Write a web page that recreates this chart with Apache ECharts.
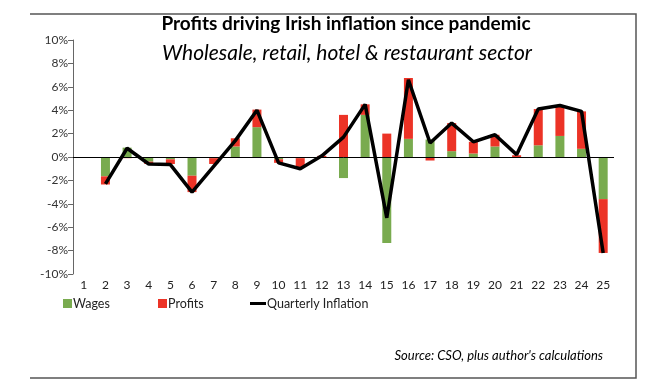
<!DOCTYPE html>
<html><head><meta charset="utf-8">
<script src="https://cdn.jsdelivr.net/npm/echarts@6/dist/echarts.min.js"></script>
<style>html,body{margin:0;padding:0;background:#fff}#c{width:650px;height:390px}</style>
</head><body><div id="c"></div>
<script>
const categories = ['1','2','3','4','5','6','7','8','9','10','11','12','13','14','15','16','17','18','19','20','21','22','23','24','25'];
const wages     = [null,-1.65, 0.8,-0.4,-0.2,-1.6,-0.1, 0.9, 2.55,-0.2,-0.1, 0.0,-1.8, 3.6,-7.35, 1.55, 1.5, 0.5, 0.3, 0.9, 0.0, 1.0, 1.8, 0.7,-3.6];
const profits   = [null,-0.7,-0.1,-0.2,-0.4,-1.4,-0.5, 0.7, 1.5,-0.3,-0.8, 0.1, 3.6, 0.9, 2.0, 5.2,-0.3, 2.4, 1.0, 1.0, 0.15, 3.1, 2.6, 3.2,-4.6];
const inflation = [null,-2.3, 0.75,-0.6,-0.65,-3.0,-0.8, 1.4, 4.0,-0.5,-1.0, 0.1, 1.7, 4.5,-5.2, 6.6, 1.2, 2.9, 1.3, 1.9, 0.2, 4.1, 4.4, 3.9,-8.2];
const yTicks = [-10,-8,-6,-4,-2,0,2,4,6,8,10];

const FONT = 'Lato';
const chart = echarts.init(document.getElementById('c'), null, {renderer:'canvas'});
chart.setOption({
  animation:false,
  textStyle:{fontFamily:FONT},
  title:[
    {text:'Profits driving Irish inflation since pandemic', left:341, top:9, textAlign:'center',
     textStyle:{fontFamily:FONT, fontWeight:'bold', fontSize:19, color:'#000'}},
    {text:'Wholesale, retail, hotel & restaurant sector', left:342, top:38, textAlign:'center',
     textStyle:{fontFamily:FONT, fontStyle:'italic', fontWeight:'normal', fontSize:21, color:'#000'}},
    {text:"Source: CSO, plus author's calculations", right:42, top:344,
     textStyle:{fontFamily:FONT, fontStyle:'italic', fontWeight:'normal', fontSize:13, color:'#000'}}
  ],
  legend:[
    {data:[{name:'Wages', icon:'rect'}], left:63, top:297, padding:0, itemWidth:9, itemHeight:9,
     textStyle:{fontFamily:FONT, fontSize:12.5, color:'#222', padding:[0,0,0,-4]}},
    {data:[{name:'Profits', icon:'rect'}], left:158, top:297, padding:0, itemWidth:9, itemHeight:9,
     textStyle:{fontFamily:FONT, fontSize:12.5, color:'#222', padding:[0,0,0,-4]}},
    {data:[{name:'Quarterly Inflation', icon:'rect', itemStyle:{color:'#000'}}], left:250, top:297, padding:0, itemWidth:16, itemHeight:3,
     textStyle:{fontFamily:FONT, fontSize:12.5, color:'#222', padding:[0,0,0,-4]}}
  ],
  grid:{left:73, right:36, top:40, bottom:116, containLabel:false},
  xAxis:{type:'category', data:categories, boundaryGap:true,
    axisLine:{show:false, onZero:false}, axisTick:{show:false},
    axisLabel:{color:'#222', fontSize:12, margin:5, fontFamily:FONT}},
  yAxis:{type:'value', min:-10, max:10, interval:2,
    axisLine:{show:true, lineStyle:{color:'#666', width:1}},
    axisTick:{show:true, inside:false, length:5, lineStyle:{color:'#666'}},
    splitLine:{show:false},
    axisLabel:{color:'#333', fontSize:12, margin:5, fontFamily:FONT, formatter:v=>v+'%'}},
  series:[
    {name:'Wages', type:'bar', stack:'s', data:wages, barWidth:9, itemStyle:{color:'#79ab4f'},
     markLine:{silent:true, symbol:'none', label:{show:false}, lineStyle:{color:'#000', width:1, type:'solid'},
       data:[{yAxis:0}]}},
    {name:'Profits', type:'bar', stack:'s', data:profits, barWidth:9, itemStyle:{color:'#ec3326'}},
    {name:'Quarterly Inflation', type:'line', data:inflation, symbol:'none', z:5,
     lineStyle:{color:'#000', width:3.5}, itemStyle:{color:'#000'}}
  ],
  graphic:[
    {type:'polyline', shape:{points:[[30,14],[636,14],[636,378],[30,378]]}, style:{stroke:'#555', lineWidth:1.5, fill:null}}
  ]
});
</script></body></html>
